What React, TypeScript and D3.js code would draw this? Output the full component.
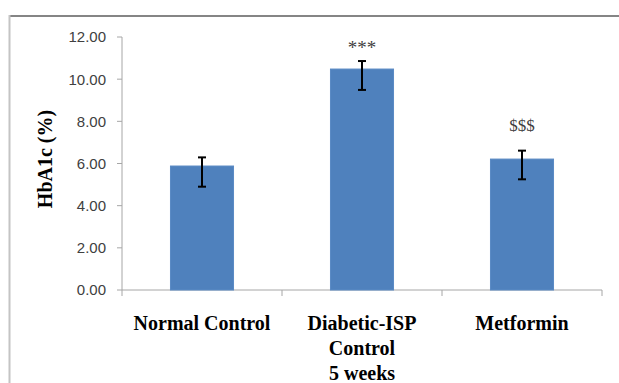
import React from "react";
import * as d3 from "d3";

const categories = ["Normal Control", "Diabetic-ISP Control 5 weeks", "Metformin"];
const categoryLines = [["Normal Control"], ["Diabetic-ISP", "Control", "5 weeks"], ["Metformin"]];
const means = [5.88, 10.48, 6.21];
const errUpper = [6.29, 10.86, 6.61];
const errLower = [4.9, 9.49, 5.25];
const annotations = ["", "***", "$$$"];
const annotationSizes = [0, 19, 17];
const annotationLevels = [0, 11.2, 7.54];
const yTicks = [0, 2, 4, 6, 8, 10, 12];
const yLabel = "HbA1c (%)";

const W = 619;
const H = 383;
const plot = { left: 122, right: 602, top: 37, bottom: 290 };

export default function App() {
  const x = d3
    .scaleBand<string>()
    .domain(categories)
    .range([plot.left, plot.right])
    .paddingInner(0.606)
    .paddingOuter(0.303);
  const y = d3.scaleLinear().domain([0, 12]).range([plot.bottom, plot.top]);
  const step = x.step();
  const bw = x.bandwidth();
  const boundaries = categories.map((c) => (x(c) as number) - (step - bw) / 2);
  boundaries.push(plot.right);
  const serif = "'Liberation Serif', 'Times New Roman', serif";
  const sans = "'Liberation Sans', Arial, sans-serif";

  return (
    <svg
      width={W}
      height={H}
      style={{ position: "absolute", left: 0, top: 0, background: "#fff" }}
    >
      <rect x={0} y={0} width={W} height={H} fill="#fff" />
      {/* frame */}
      <line x1={9} x2={W} y1={16} y2={16} stroke="#858585" strokeWidth={2} />
      <line x1={9.5} x2={9.5} y1={15} y2={H} stroke="#c4c4c4" strokeWidth={2} />

      {/* y axis */}
      <line x1={plot.left} x2={plot.left} y1={plot.top} y2={plot.bottom} stroke="#a6a6a6" strokeWidth={1} />
      {yTicks.map((t) => (
        <g key={t}>
          <line x1={plot.left - 5} x2={plot.left} y1={y(t)} y2={y(t)} stroke="#a6a6a6" />
          <text
            x={106}
            y={y(t)}
            dy="0.36em"
            textAnchor="end"
            fontFamily={sans}
            fontSize={15}
            fill="#404040"
          >
            {t.toFixed(2)}
          </text>
        </g>
      ))}

      {/* x axis */}
      <line x1={plot.left} x2={plot.right} y1={plot.bottom} y2={plot.bottom} stroke="#a6a6a6" />
      {boundaries.map((b, i) => (
        <line key={i} x1={b} x2={b} y1={plot.bottom} y2={plot.bottom + 6} stroke="#a6a6a6" />
      ))}

      {/* bars */}
      {categories.map((c, i) => (
        <rect
          key={c}
          x={x(c)}
          y={y(means[i])}
          width={bw}
          height={y(0) - y(means[i])}
          fill="#4f81bd"
          stroke="#5a8ac4"
          strokeWidth={1}
        />
      ))}

      {/* error bars */}
      {categories.map((c, i) => {
        const cx = (x(c) as number) + bw / 2;
        return (
          <g key={c} stroke="#000" strokeWidth={2}>
            <line x1={cx} x2={cx} y1={y(errUpper[i])} y2={y(errLower[i])} />
            <line x1={cx - 4} x2={cx + 4} y1={y(errUpper[i])} y2={y(errUpper[i])} />
            <line x1={cx - 4} x2={cx + 4} y1={y(errLower[i])} y2={y(errLower[i])} />
          </g>
        );
      })}

      {/* annotations */}
      {categories.map((c, i) =>
        annotations[i] ? (
          <text
            key={c}
            x={(x(c) as number) + bw / 2}
            y={y(annotationLevels[i])}
            textAnchor="middle"
            fontFamily={serif}
            fontSize={annotationSizes[i]}
            fill="#404040"
          >
            {annotations[i]}
          </text>
        ) : null
      )}

      {/* x labels */}
      {categories.map((c, i) => (
        <text
          key={c}
          x={(x(c) as number) + bw / 2}
          y={330}
          textAnchor="middle"
          fontFamily={serif}
          fontWeight="bold"
          fontSize={20}
          fill="#000"
        >
          {categoryLines[i].map((ln, j) => (
            <tspan key={j} x={(x(c) as number) + bw / 2} dy={j === 0 ? 0 : 25}>
              {ln}
            </tspan>
          ))}
        </text>
      ))}

      {/* y label */}
      <text
        transform={`translate(52,159) rotate(-90)`}
        textAnchor="middle"
        fontFamily={serif}
        fontWeight="bold"
        fontSize={20}
        fill="#000"
      >
        {yLabel}
      </text>
    </svg>
  );
}
